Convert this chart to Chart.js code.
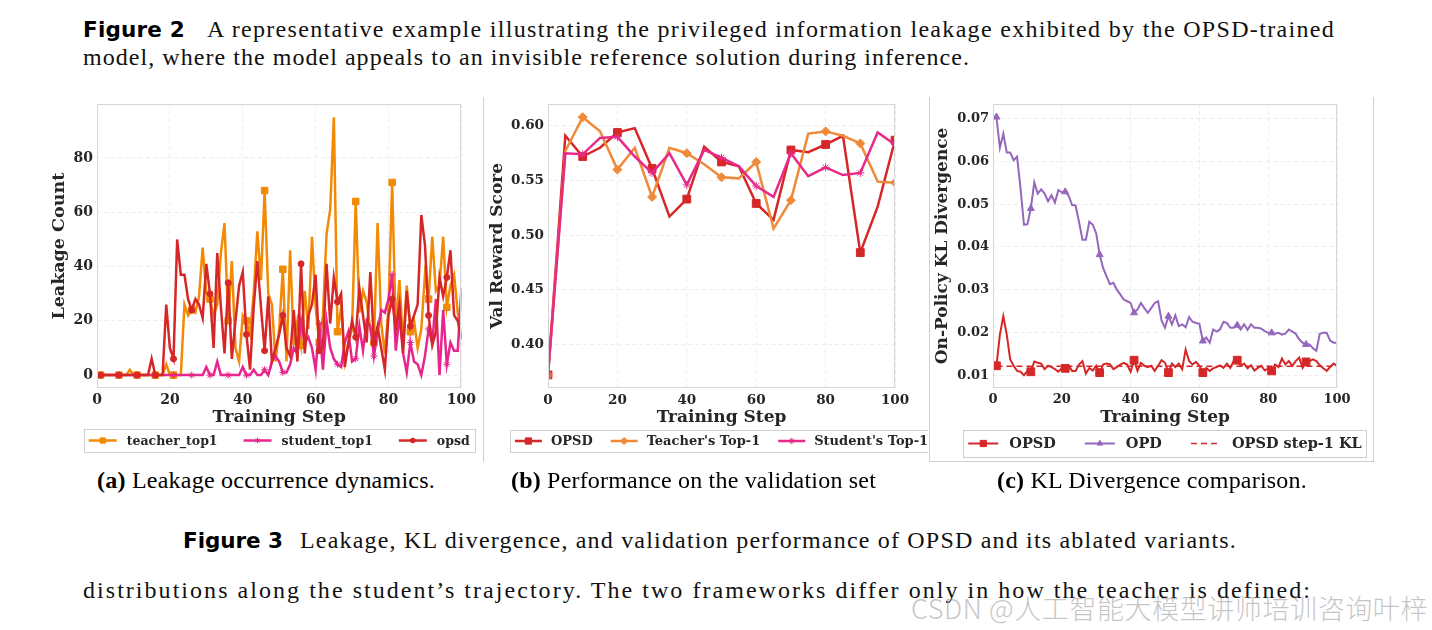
<!DOCTYPE html>
<html>
<head>
<meta charset="utf-8">
<title>Figure 3</title>
<script src="https://cdn.jsdelivr.net/npm/chart.js@4.4.1/dist/chart.umd.min.js"></script>
<style>
  html, body { margin: 0; padding: 0; background: #fff; }
  #page { position: relative; width: 1432px; height: 630px; overflow: hidden; }
  .t { position: absolute; white-space: nowrap; line-height: 1; color: #111;
       font-family: "Liberation Serif", "Times New Roman", serif; font-size: 24px; }
  .sans { font-family: "DejaVu Sans", Arial, sans-serif; font-weight: bold; font-size: 21.5px; color: #000; }
  .cap { font-size: 24px; color: #000; }
  .wm { font-family: "Noto Sans CJK SC", "Noto Sans", sans-serif; font-weight: 300; font-size: 27px;
        color: rgba(140, 140, 140, 0.5); }
  canvas { position: absolute; }
  .rule { position: absolute; background: #d0d0d0; }
</style>
</head>
<body>
<div id="page">
  <span class="t sans" style="left:83px; top:18.5px" data-w="102">Figure 2</span>
  <span class="t" style="left:207px; top:16.6px" data-w="1128">A representative example illustrating the privileged information leakage exhibited by the OPSD-trained</span>
  <span class="t" style="left:83px; top:44.9px" data-w="887">model, where the model appeals to an invisible reference solution during inference.</span>

  <canvas id="chartA" width="440" height="375" style="left:40px; top:92px"></canvas>
  <canvas id="chartB" width="442" height="375" style="left:486px; top:92px"></canvas>
  <canvas id="chartC" width="442" height="375" style="left:930px; top:92px"></canvas>

  <div class="rule" style="left:483px; top:97px; width:1px; height:365px"></div>
  <div class="rule" style="left:929px; top:97px; width:1px; height:365px"></div>
  <div class="rule" style="left:1373px; top:97px; width:1px; height:365px"></div>
  <div class="rule" style="left:929px; top:461px; width:445px; height:1px"></div>

  <span class="t cap" style="left:97px; top:467.9px" data-w="338"><b>(a)</b> Leakage occurrence dynamics.</span>
  <span class="t cap" style="left:511px; top:467.9px" data-w="365"><b>(b)</b> Performance on the validation set</span>
  <span class="t cap" style="left:997px; top:467.9px" data-w="310"><b>(c)</b> KL Divergence comparison.</span>

  <span class="t sans" style="left:183px; top:530.1px" data-w="100">Figure 3</span>
  <span class="t" style="left:300px; top:528.2px" data-w="937">Leakage, KL divergence, and validation performance of OPSD and its ablated variants.</span>
  <span class="t" style="left:83px; top:577.6px" data-w="1229">distributions along the student’s trajectory. The two frameworks differ only in how the teacher is defined:</span>
  <span class="t wm" style="left:911px; top:594px" data-w="517">CSDN @人工智能大模型讲师培训咨询叶梓</span>
</div>

<script>
// ---- data ----
const X_TICKS = [0, 20, 40, 60, 80, 100];

// (a) leakage counts, steps 1..100
const STEPS_A = Array.from({ length: 100 }, (_, i) => i + 1);
const TEACHER_A = [0, 0, 0, 0, 0, 0, 0, 0, 2, 0,
  0, 0, 0, 0, 0, 0, 0, 0, 4, 0,
  0, 0, 0, 26, 22, 24, 23, 29, 47, 30,
  28, 22, 26, 45, 56, 20, 42, 10, 5, 22,
  20, 15, 30, 53, 35, 68, 30, 26, 5, 17,
  39, 5, 46, 11, 20, 11, 31, 17, 51, 25,
  12, 22, 52, 61, 95, 16, 25, 5, 12, 17,
  64, 23, 31, 27, 17, 12, 56, 19, 8, 25,
  71, 17, 35, 11, 33, 16, 20, 10, 17, 37,
  28, 51, 31, 33, 51, 25, 33, 37, 23, 14];
const STUDENT_A = [0, 0, 0, 0, 0, 0, 0, 0, 0, 0,
  0, 0, 0, 0, 0, 0, 0, 0, 0, 0,
  0, 0, 0, 0, 0, 0, 0, 0, 0, 3,
  0, 0, 5, 0, 0, 0, 0, 0, 0, 3,
  0, 0, 2, 0, 0, 2, 0, 5, 7, 5,
  1, 1, 4, 10, 8, 20, 12, 14, 10, 2,
  19, 2, 20, 10, 6, 4, 3, 12, 16, 5,
  6, 18, 9, 20, 18, 7, 16, 24, 23, 28,
  37, 9, 22, 8, 1, 12, 5, 4, 0, 7,
  17, 12, 28, 0, 24, 4, 12, 9, 9, 32];
const OPSD_A = [0, 0, 0, 0, 0, 0, 0, 0, 0, 0,
  0, 0, 0, 0, 6, 0, 0, 0, 26, 10,
  6, 50, 37, 37, 28, 24, 28, 26, 21, 41,
  30, 10, 45, 25, 8, 34, 6, 20, 33, 38,
  15, 2, 25, 42, 25, 9, 29, 5, 10, 15,
  22, 10, 7, 24, 5, 41, 8, 22, 26, 37,
  9, 10, 41, 19, 36, 27, 30, 3, 12, 20,
  14, 32, 22, 12, 38, 12, 18, 10, 2, 22,
  28, 17, 26, 8, 31, 18, 22, 26, 59, 48,
  22, 11, 16, 36, 29, 36, 46, 22, 20, 13];
const Y_TICKS_A = [0, 20, 40, 60, 80];

// (b) validation reward, every 5 steps
const STEPS_B = [0, 5, 10, 15, 20, 25, 30, 35, 40, 45, 50, 55, 60, 65, 70, 75, 80, 85, 90, 95, 100];
const OPSD_B = [0.372, 0.591, 0.572, 0.580, 0.594, 0.598, 0.561, 0.517, 0.533, 0.581, 0.567,
  0.563, 0.529, 0.514, 0.578, 0.576, 0.583, 0.591, 0.484, 0.526, 0.587];
const TEACHER_B = [0.372, 0.577, 0.608, 0.595, 0.560, 0.580, 0.535, 0.580, 0.575, 0.565, 0.553,
  0.552, 0.567, 0.506, 0.532, 0.593, 0.595, 0.591, 0.584, 0.549, 0.548];
const STUDENT_B = [0.372, 0.575, 0.574, 0.589, 0.590, 0.572, 0.557, 0.575, 0.546, 0.578, 0.571,
  0.563, 0.545, 0.535, 0.575, 0.554, 0.562, 0.555, 0.557, 0.594, 0.583];
const Y_TICKS_B = [0.40, 0.45, 0.50, 0.55, 0.60];

// (c) on-policy KL, steps 1..100
const STEPS_C = Array.from({ length: 100 }, (_, i) => i + 1);
const OPSD_C = [0.0122, 0.0195, 0.0238, 0.0195, 0.0137, 0.0122, 0.0110, 0.0108, 0.0100, 0.0110,
  0.0108, 0.0132, 0.0129, 0.0127, 0.0114, 0.0122, 0.0119, 0.0114, 0.0108, 0.0116,
  0.0116, 0.0122, 0.0110, 0.0110, 0.0125, 0.0133, 0.0104, 0.0117, 0.0111, 0.0122,
  0.0106, 0.0125, 0.0127, 0.0125, 0.0114, 0.0119, 0.0125, 0.0129, 0.0125, 0.0108,
  0.0135, 0.0110, 0.0129, 0.0122, 0.0119, 0.0122, 0.0110, 0.0122, 0.0135, 0.0129,
  0.0106, 0.0127, 0.0119, 0.0127, 0.0114, 0.0160, 0.0133, 0.0125, 0.0131, 0.0122,
  0.0106, 0.0117, 0.0110, 0.0116, 0.0119, 0.0123, 0.0117, 0.0127, 0.0117, 0.0134,
  0.0135, 0.0122, 0.0127, 0.0116, 0.0123, 0.0111, 0.0117, 0.0122, 0.0111, 0.0116,
  0.0110, 0.0125, 0.0119, 0.0139, 0.0125, 0.0133, 0.0122, 0.0133, 0.0141, 0.0117,
  0.0131, 0.0133, 0.0137, 0.0133, 0.0123, 0.0116, 0.0110, 0.0119, 0.0127, 0.0122];
const OPD_C = [0.0704, 0.0632, 0.0665, 0.0621, 0.0621, 0.0603, 0.0611, 0.0537, 0.0452, 0.0453,
  0.0490, 0.0551, 0.0525, 0.0535, 0.0525, 0.0507, 0.0521, 0.0504, 0.0533, 0.0528,
  0.0529, 0.0520, 0.0498, 0.0497, 0.0459, 0.0417, 0.0417, 0.0459, 0.0452, 0.0432,
  0.0382, 0.0351, 0.0331, 0.0313, 0.0316, 0.0300, 0.0289, 0.0277, 0.0273, 0.0269,
  0.0246, 0.0254, 0.0269, 0.0257, 0.0246, 0.0257, 0.0269, 0.0273, 0.0228, 0.0211,
  0.0238, 0.0219, 0.0240, 0.0215, 0.0219, 0.0212, 0.0236, 0.0225, 0.0222, 0.0220,
  0.0180, 0.0188, 0.0176, 0.0207, 0.0202, 0.0207, 0.0225, 0.0222, 0.0211, 0.0211,
  0.0217, 0.0207, 0.0219, 0.0206, 0.0219, 0.0211, 0.0211, 0.0209, 0.0203, 0.0199,
  0.0199, 0.0197, 0.0199, 0.0195, 0.0197, 0.0207, 0.0202, 0.0197, 0.0184, 0.0176,
  0.0172, 0.0172, 0.0163, 0.0157, 0.0197, 0.0199, 0.0199, 0.0181, 0.0176, 0.0176];
const STEP1_KL = 0.0121;
const Y_TICKS_C = [0.01, 0.02, 0.03, 0.04, 0.05, 0.06, 0.07];

// ---- styling ----
const INK = "#262626";
const GRID = "#e8e8e8";
const SERIF = '"DejaVu Serif", serif';

function series(label, xs, ys, color, marker, r, every, width, order) {
    return {
        label: label,
        order: order,
        data: xs.map((x, i) => ({ x: x, y: ys[i] })),
        borderColor: color,
        backgroundColor: color,
        borderWidth: width,
        pointStyle: marker,
        pointRadius: c => (c.dataIndex % every === 0 ? r : 0),
        pointHoverRadius: 0,
        pointBackgroundColor: color,
        pointBorderColor: color,
        pointBorderWidth: 1,
        markR: r
    };
}

// light box around the plot area, like the matplotlib spines
const plotFrame = {
    id: "plotFrame",
    afterDatasetsDraw(chart) {
        const { ctx, chartArea: a } = chart;
        ctx.save();
        ctx.strokeStyle = "#d6d6d6";
        ctx.lineWidth = 1;
        ctx.strokeRect(Math.round(a.left) + 0.5, Math.round(a.top) + 0.5,
            Math.round(a.right - a.left) - 1, Math.round(a.bottom - a.top) - 1);
        ctx.restore();
    }
};

// framed legend under the x title, centred on the plot area
const boxLegend = {
    id: "boxLegend",
    afterDraw(chart, args, o) {
        const { ctx, chartArea: a } = chart;
        const sets = chart.data.datasets;
        ctx.save();
        ctx.font = "bold " + o.size + "px " + SERIF;
        const tw = sets.map(d => ctx.measureText(d.label).width);
        let total = o.pad * 2 + o.spacing * (sets.length - 1);
        tw.forEach(w => { total += o.line + o.gap + w; });
        let x = (a.left + a.right) / 2 - total / 2;
        const yc = o.top + o.height / 2;

        ctx.fillStyle = "#fff";
        ctx.fillRect(x, o.top, total, o.height);
        ctx.strokeStyle = "#cfcfcf";
        ctx.lineWidth = 1;
        ctx.strokeRect(Math.round(x) + 0.5, Math.round(o.top) + 0.5, Math.round(total), Math.round(o.height));

        x += o.pad;
        sets.forEach((d, i) => {
            ctx.strokeStyle = d.borderColor;
            ctx.lineWidth = d.borderWidth;
            ctx.setLineDash(d.borderDash || []);
            ctx.beginPath();
            ctx.moveTo(x, yc);
            ctx.lineTo(x + o.line, yc);
            ctx.stroke();
            ctx.setLineDash([]);
            if (d.pointStyle && d.markR) {
                ctx.fillStyle = d.borderColor;
                ctx.lineWidth = 1;
                Chart.helpers.drawPoint(ctx, { pointStyle: d.pointStyle, radius: d.markR * 0.8, rotation: 0, borderWidth: 1 },
                    x + o.line / 2, yc);
            }
            x += o.line + o.gap;
            ctx.fillStyle = INK;
            ctx.textBaseline = "middle";
            ctx.fillText(d.label, x, yc + 1);
            x += tw[i] + o.spacing;
        });
        ctx.restore();
    }
};

function panelOptions(p) {
    const tickFont = { family: SERIF, weight: "bold", size: p.tickSize };
    const titleFont = { family: SERIF, weight: "bold", size: p.titleSize };
    return {
        responsive: false,
        animation: false,
        layout: { padding: p.pad },
        elements: { line: { tension: 0 } },
        plugins: {
            legend: { display: false },
            tooltip: { enabled: false },
            boxLegend: p.legend
        },
        scales: {
            x: {
                type: "linear",
                min: 0,
                max: 100,
                afterBuildTicks: s => { s.ticks = X_TICKS.map(v => ({ value: v })); },
                afterFit: s => { s.height = p.xH; },
                grid: { color: GRID, lineWidth: 0.8, drawTicks: false },
                border: { display: false, dash: [4, 3] },
                ticks: { color: INK, font: tickFont, padding: p.xTickPad, autoSkip: false, maxRotation: 0 },
                title: { display: true, text: "Training Step", color: INK, font: titleFont,
                    padding: { top: 0, bottom: p.xTitlePad } }
            },
            y: {
                type: "linear",
                min: p.yMin,
                max: p.yMax,
                afterBuildTicks: s => { s.ticks = p.yTicks.map(v => ({ value: v })); },
                afterFit: s => { s.width = p.yW; },
                grid: { color: GRID, lineWidth: 0.8, drawTicks: false },
                border: { display: false, dash: [4, 3] },
                ticks: { color: INK, font: tickFont, padding: 4, autoSkip: false,
                    callback: v => (p.yDigits ? v.toFixed(p.yDigits) : String(v)) },
                title: { display: true, text: p.yTitle, color: INK, font: titleFont,
                    padding: { top: p.yTitlePad, bottom: 0 } }
            }
        }
    };
}

function fitLines() {
    document.querySelectorAll("[data-w]").forEach(el => {
        const target = +el.dataset.w;
        el.style.letterSpacing = "0px";
        const natural = el.getBoundingClientRect().width;
        const n = el.textContent.length;
        el.style.letterSpacing = ((target - natural) / n) + "px";
    });
}

function drawCharts() {
    new Chart(document.getElementById("chartA"), {
        type: "line",
        data: {
            datasets: [
                series("teacher_top1", STEPS_A, TEACHER_A, "#f28a05", "rect", 4.6, 5, 2.5, 3),
                series("student_top1", STEPS_A, STUDENT_A, "#e8258c", "star", 3.5, 5, 2.5, 2),
                series("opsd", STEPS_A, OPSD_A, "#d62728", "circle", 3, 5, 2.5, 1)
            ]
        },
        options: panelOptions({
            pad: { left: 0, right: 18, top: 12, bottom: 39 },
            xH: 40, yW: 57, xTickPad: 4, xTitlePad: 0.5, yTitlePad: 8.5,
            tickSize: 14, titleSize: 17.5,
            yMin: -4.75, yMax: 99.75, yTicks: Y_TICKS_A, yDigits: 0,
            yTitle: "Leakage Count",
            legend: { top: 337, height: 23, size: 12.5, pad: 5, line: 28, gap: 10, spacing: 26 }
        }),
        plugins: [plotFrame, boxLegend]
    });

    new Chart(document.getElementById("chartB"), {
        type: "line",
        data: {
            datasets: [
                series("OPSD", STEPS_B, OPSD_B, "#d62728", "rect", 5.5, 2, 2.5, 3),
                series("Teacher's Top-1", STEPS_B, TEACHER_B, "#ef8a3a", "rectRot", 4.5, 2, 2.5, 2),
                series("Student's Top-1", STEPS_B, STUDENT_B, "#e7298a", "star", 4, 2, 2.5, 1)
            ]
        },
        options: panelOptions({
            pad: { left: 0, right: 33, top: 11, bottom: 39 },
            xH: 40, yW: 62, xTickPad: 4, xTitlePad: 0, yTitlePad: 1.8,
            tickSize: 13.5, titleSize: 17,
            yMin: 0.360, yMax: 0.620, yTicks: Y_TICKS_B, yDigits: 2,
            yTitle: "Val Reward Score",
            legend: { top: 338, height: 22, size: 13, pad: 5, line: 27, gap: 9, spacing: 18 }
        }),
        plugins: [plotFrame, boxLegend]
    });

    const stepLine = series("OPSD step-1 KL", [STEPS_C[0], STEPS_C[STEPS_C.length - 1]],
        [STEP1_KL, STEP1_KL], "#d62728", false, 0, 1, 1.5, 1);
    stepLine.borderDash = [6, 4];

    new Chart(document.getElementById("chartC"), {
        type: "line",
        data: {
            datasets: [
                series("OPSD", STEPS_C, OPSD_C, "#d62728", "rect", 5.5, 10, 2, 3),
                series("OPD", STEPS_C, OPD_C, "#9467bd", "triangle", 4, 10, 2, 2),
                stepLine
            ]
        },
        options: panelOptions({
            pad: { left: 0, right: 35, top: 11, bottom: 39 },
            xH: 40, yW: 63, xTickPad: 4, xTitlePad: 0, yTitlePad: 2.8,
            tickSize: 13, titleSize: 17,
            yMin: 0.0070, yMax: 0.0735, yTicks: Y_TICKS_C, yDigits: 2,
            yTitle: "On-Policy KL Divergence",
            legend: { top: 338, height: 27, size: 14.5, pad: 5, line: 30, gap: 11, spacing: 29 }
        }),
        plugins: [plotFrame, boxLegend]
    });
}

fitLines();
drawCharts();
</script>
</body>
</html>
